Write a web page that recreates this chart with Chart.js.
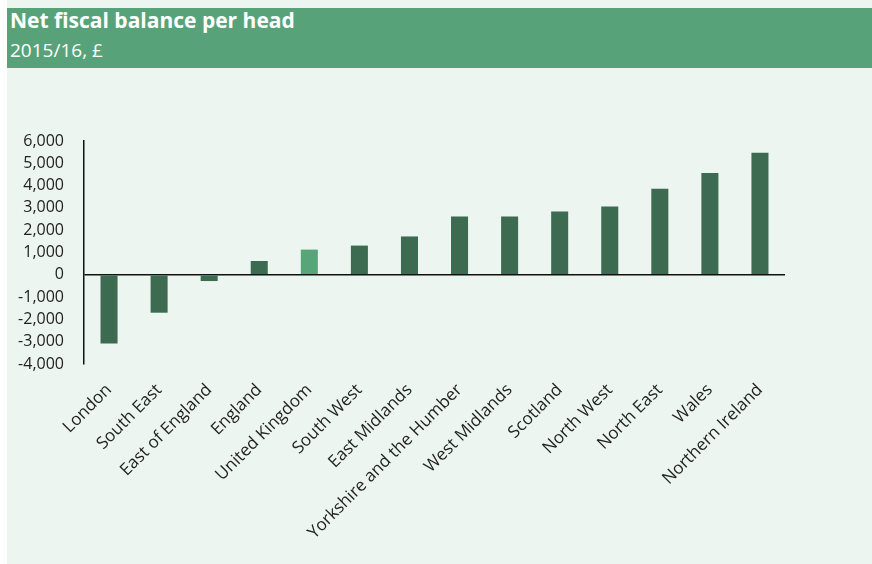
<!DOCTYPE html>
<html>
<head>
<meta charset="utf-8">
<script src="https://cdn.jsdelivr.net/npm/chart.js@4/dist/chart.umd.min.js"></script>
<style>
  html, body { margin: 0; padding: 0; background: #ffffff; width: 872px; height: 564px; overflow: hidden; }
  #panel { position: absolute; left: 7px; top: 0; width: 865px; height: 564px; background: #ecf5f0; }
  #band { position: absolute; left: 7px; top: 8px; width: 865px; height: 60px; background: #58a27a; }
  #title { position: absolute; left: 10px; top: 5px; font-family: "Open Sans", sans-serif; font-weight: bold; font-size: 21px; line-height: 30px; color: #ffffff; }
  #subtitle { position: absolute; left: 10px; top: 37px; font-family: "Open Sans", sans-serif; font-size: 19px; line-height: 26px; color: #ffffff; }
  #wrap { position: absolute; left: 0; top: 80px; width: 872px; height: 484px; }
</style>
</head>
<body>
<div id="panel"></div>
<div id="band"></div>
<div id="title">Net fiscal balance per head</div>
<div id="subtitle">2015/16, £</div>
<div id="wrap"><canvas id="c" width="872" height="484"></canvas></div>
<script>
// Net fiscal balance per head by nation and region, 2015/16 (£)
const categories = [
  "London", "South East", "East of England", "England", "United Kingdom",
  "South West", "East Midlands", "Yorkshire and the Humber", "West Midlands",
  "Scotland", "North West", "North East", "Wales", "Northern Ireland"
];
const balancePerHead = [
  -3080, -1700, -280, 620, 1130,
  1310, 1720, 2610, 2610,
  2840, 3060, 3860, 4570, 5470
];
const yTicks = [6000, 5000, 4000, 3000, 2000, 1000, 0, -1000, -2000, -3000, -4000];

const totalName = "United Kingdom";
const barColors = categories.map(c => c === totalName ? "#58a57a" : "#3c6b51");

new Chart(document.getElementById("c"), {
  type: "bar",
  data: {
    labels: categories,
    datasets: [{
      data: balancePerHead,
      backgroundColor: barColors,
      borderWidth: 0,
      barPercentage: 0.34,
      categoryPercentage: 1.0
    }]
  },
  options: {
    responsive: false,
    animation: false,
    devicePixelRatio: 1,
    layout: { padding: { top: 61, right: 87, left: 0, bottom: 0 } },
    plugins: { legend: { display: false }, tooltip: { enabled: false } },
    scales: {
      x: {
        afterFit: (axis) => { axis.height = 200; },
        grid: { display: false },
        border: { display: false },
        ticks: {
          minRotation: 45, maxRotation: 45, autoSkip: false,
          padding: 8,
          color: "#222222",
          font: { family: "Open Sans", size: 17 }
        }
      },
      y: {
        min: -4000, max: 6000,
        afterFit: (axis) => { axis.width = 84; },
        afterBuildTicks: (axis) => { axis.ticks = yTicks.map(v => ({ value: v })); },
        grid: {
          drawTicks: false,
          color: (ctx) => (ctx.tick && ctx.tick.value === 0) ? "#111111" : "rgba(0,0,0,0)",
          lineWidth: 1.5
        },
        border: { display: true, color: "#111111", width: 1.5 },
        ticks: {
          padding: 20,
          color: "#222222",
          font: { family: "Open Sans", size: 16 },
          callback: (v) => v.toLocaleString("en-GB")
        }
      }
    }
  }
});
</script>
</body>
</html>
